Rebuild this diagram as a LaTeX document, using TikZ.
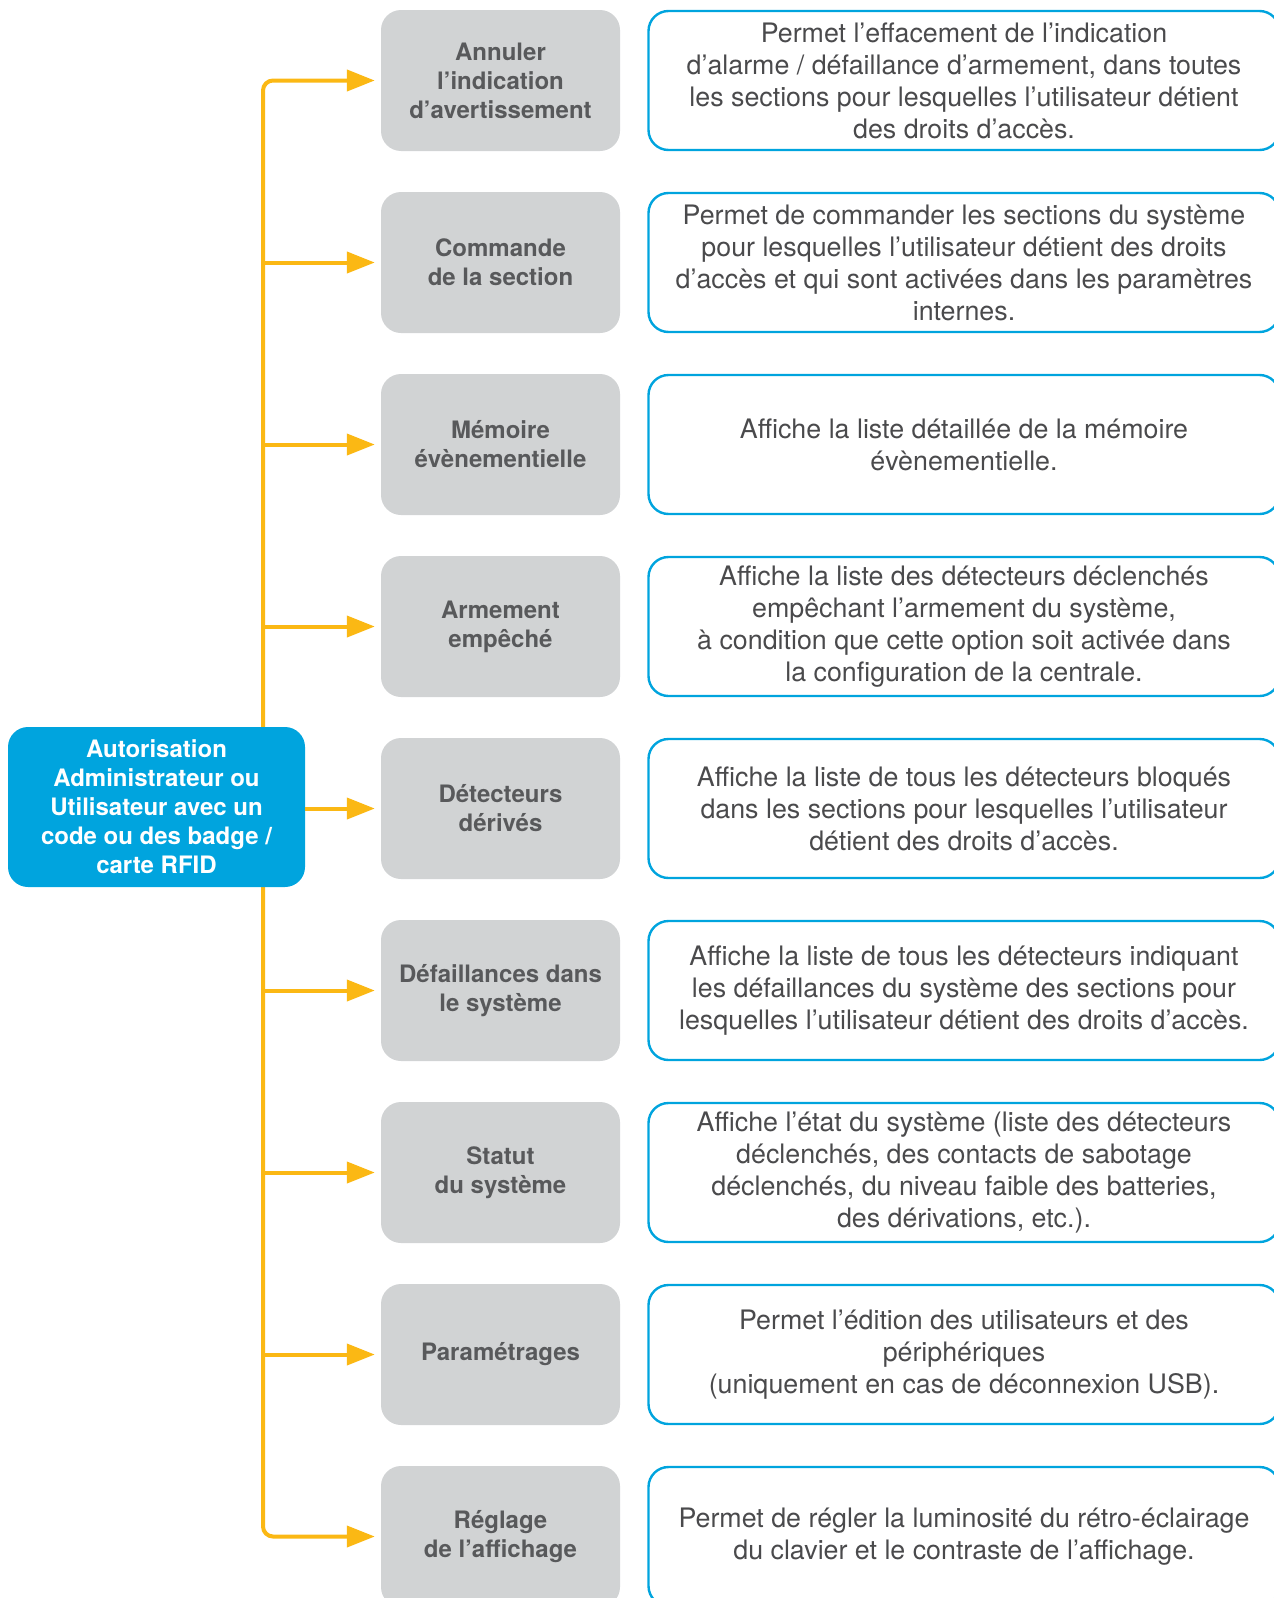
\documentclass[tikz,border=0pt]{standalone}
\usepackage{fontspec}
\setmainfont{TeX Gyre Heros}
\usetikzlibrary{arrows.meta}
\definecolor{grayfill}{HTML}{D1D3D4}
\definecolor{graytext}{HTML}{58595B}
\definecolor{desctext}{HTML}{4A4A4C}
\definecolor{bluec}{HTML}{00A4DE}
\definecolor{orangec}{HTML}{FBB814}
\begin{document}
\begin{tikzpicture}[x=1pt,y=-1pt,
  graybox/.style={fill=grayfill, rounded corners=20pt, minimum width=239pt, minimum height=141pt, inner sep=0pt,
    font=\fontsize{24}{29}\selectfont\bfseries, text=graytext, align=center},
  descbox/.style={draw=bluec, line width=2.4pt, rounded corners=20pt, minimum width=631pt, minimum height=139pt, inner sep=0pt,
    font=\fontsize{26.8}{32}\selectfont, text=desctext, align=center},
  bluebox/.style={fill=bluec, rounded corners=20pt, minimum width=297pt, minimum height=160pt, inner sep=0pt,
    font=\fontsize{24}{29}\selectfont\bfseries, text=white, align=center},
  arr/.style={draw=orangec, line width=4pt, -{Triangle[length=28pt,width=21pt]}}]
\useasboundingbox (0,0) rectangle (1274,1598);
\clip (0,0) rectangle (1274,1598);

% gray boxes
\node[graybox] (g1) at (500.5,80.5) {Annuler\\l’indication\\d’avertissement};
\node[graybox] (g2) at (500.5,262.5) {Commande\\de la section};
\node[graybox] (g3) at (500.5,444.5) {Mémoire\\évènementielle};
\node[graybox] (g4) at (500.5,626.5) {Armement\\empêché};
\node[graybox] (g5) at (500.5,808.5) {Détecteurs\\dérivés};
\node[graybox] (g6) at (500.5,990.5) {Défaillances dans\\le système};
\node[graybox] (g7) at (500.5,1172.5) {Statut\\du système};
\node[graybox] (g8) at (500.5,1354.5) {Paramétrages};
\node[graybox] (g9) at (500.5,1536.5) {Réglage\\de l’affichage};

% description boxes
\node[descbox] (d1) at (964,80.5) {Permet l’effacement de l’indication\\d’alarme / défaillance d’armement, dans toutes\\les sections pour lesquelles l’utilisateur détient\\des droits d’accès.};
\node[descbox] (d2) at (964,262.5) {Permet de commander les sections du système\\pour lesquelles l’utilisateur détient des droits\\d’accès et qui sont activées dans les paramètres\\internes.};
\node[descbox] (d3) at (964,444.5) {Affiche la liste détaillée de la mémoire\\évènementielle.};
\node[descbox] (d4) at (964,626.5) {Affiche la liste des détecteurs déclenchés\\empêchant l’armement du système,\\à condition que cette option soit activée dans\\la configuration de la centrale.};
\node[descbox] (d5) at (964,808.5) {Affiche la liste de tous les détecteurs bloqués\\dans les sections pour lesquelles l’utilisateur\\détient des droits d’accès.};
\node[descbox] (d6) at (964,990.5) {Affiche la liste de tous les détecteurs indiquant\\les défaillances du système des sections pour\\lesquelles l’utilisateur détient des droits d’accès.};
\node[descbox] (d7) at (964,1172.5) {Affiche l’état du système (liste des détecteurs\\déclenchés, des contacts de sabotage\\déclenchés, du niveau faible des batteries,\\des dérivations, etc.).};
\node[descbox] (d8) at (964,1354.5) {Permet l’édition des utilisateurs et des\\périphériques\\(uniquement en cas de déconnexion USB).};
\node[descbox] (d9) at (964,1536.5) {Permet de régler la luminosité du rétro-éclairage\\du clavier et le contraste de l’affichage.};

% trunk and arrows
\coordinate (t) at (263,0);
\draw[arr, rounded corners=10pt] (t |- g5.west) -- (t |- g1.west) -- ([xshift=-6pt]g1.west);
\draw[arr, rounded corners=10pt] (t |- g5.west) -- (t |- g9.west) -- ([xshift=-6pt]g9.west);
\foreach \i in {2,3,4,6,7,8} {
  \draw[arr] (t |- g\i.west) -- ([xshift=-6pt]g\i.west);
}

% blue box
\node[bluebox] (b) at (156.5,807) {Autorisation\\Administrateur ou\\Utilisateur avec un\\code ou des badge /\\carte RFID};
\draw[arr] (b.east |- g5.west) -- ([xshift=-6pt]g5.west);
\end{tikzpicture}
\end{document}
